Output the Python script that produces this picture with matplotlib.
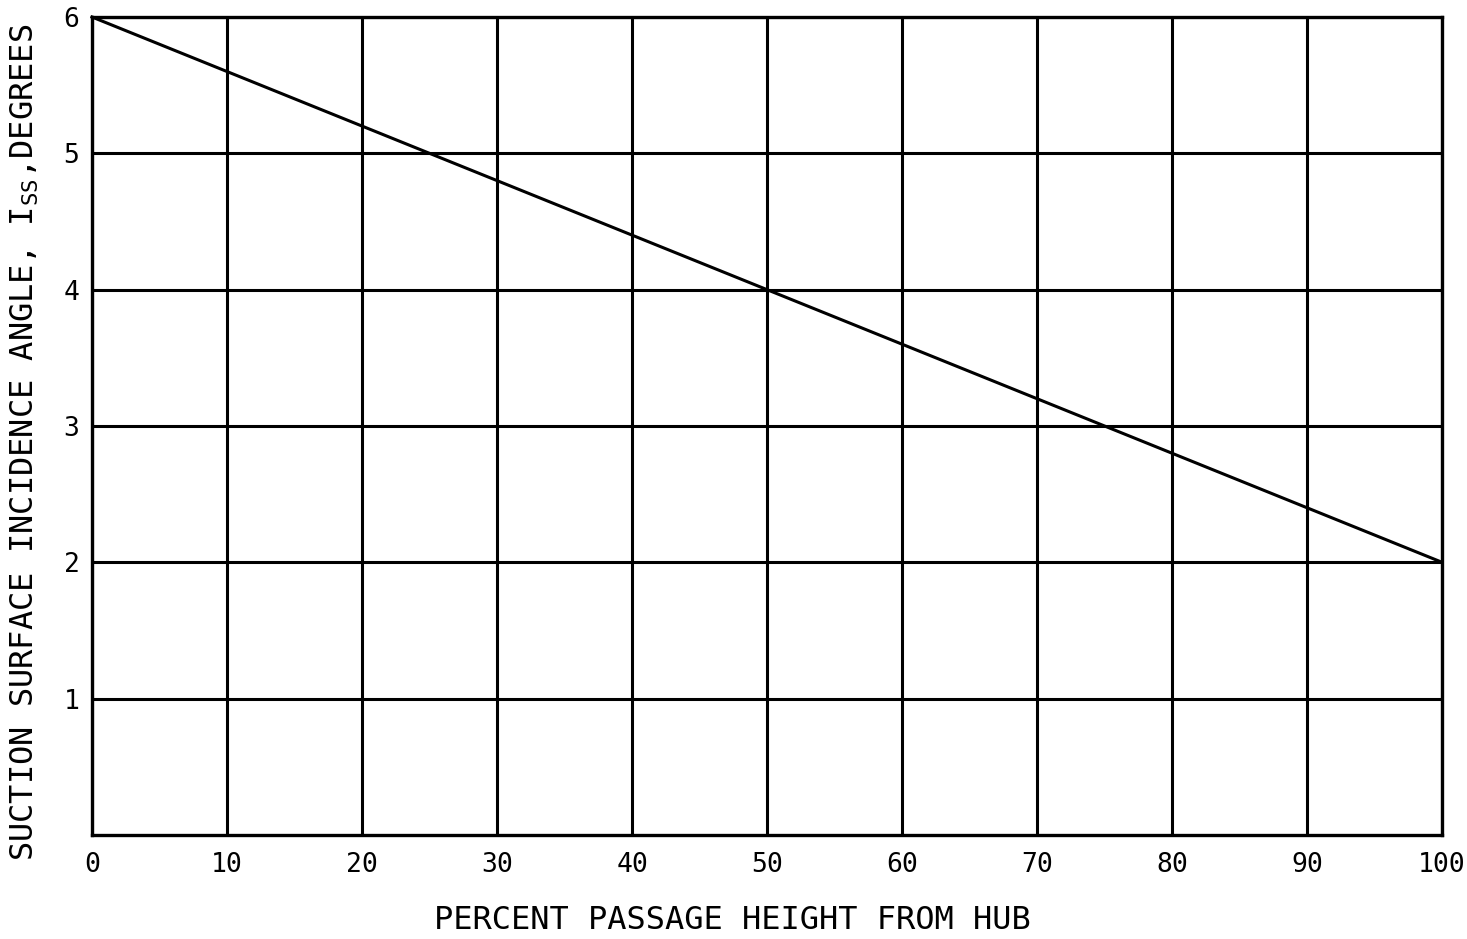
import matplotlib
matplotlib.use("Agg")
import matplotlib.pyplot as plt
import numpy as np

# Data
x_pct = [0, 100]
incidence = [6, 2]
x_ticks = [0, 10, 20, 30, 40, 50, 60, 70, 80, 90, 100]
y_ticks = [1, 2, 3, 4, 5, 6]

plt.rcParams['font.family'] = ['DejaVu Sans Mono']
plt.rcParams['mathtext.default'] = 'regular'

fig = plt.figure(figsize=(14.67, 9.39), dpi=100)
ax = fig.add_axes([0.0627, 0.1108, 0.9203, 0.8711])

ax.set_xlim(0, 100)
ax.set_ylim(0, 6)
ax.set_xticks(x_ticks)
ax.set_yticks(y_ticks)
ax.set_xticklabels([str(v) for v in x_ticks], fontsize=19)
ax.set_yticklabels([str(v) for v in y_ticks], fontsize=19)
ax.tick_params(length=0)
ax.tick_params(axis='x', pad=12)
ax.tick_params(axis='y', pad=9)

ax.grid(True, color='black', linewidth=2.2)
ax.set_axisbelow(True)
for s in ax.spines.values():
    s.set_linewidth(2.4)
    s.set_color('black')

ax.plot(x_pct, incidence, color='black', linewidth=2.2, zorder=3, clip_on=False)

ax.set_xlabel('PERCENT PASSAGE HEIGHT FROM HUB', fontsize=23)
ax.xaxis.label.set_va('center')
ax.xaxis.set_label_coords(0.474, -0.104)
ax.set_ylabel(r'SUCTION SURFACE INCIDENCE ANGLE, I$_{SS}$,DEGREES', fontsize=23)
ax.yaxis.label.set_va('center')
ax.yaxis.set_label_coords(-0.0495, 0.48)

fig.savefig('out.png', dpi=100, facecolor='white')
